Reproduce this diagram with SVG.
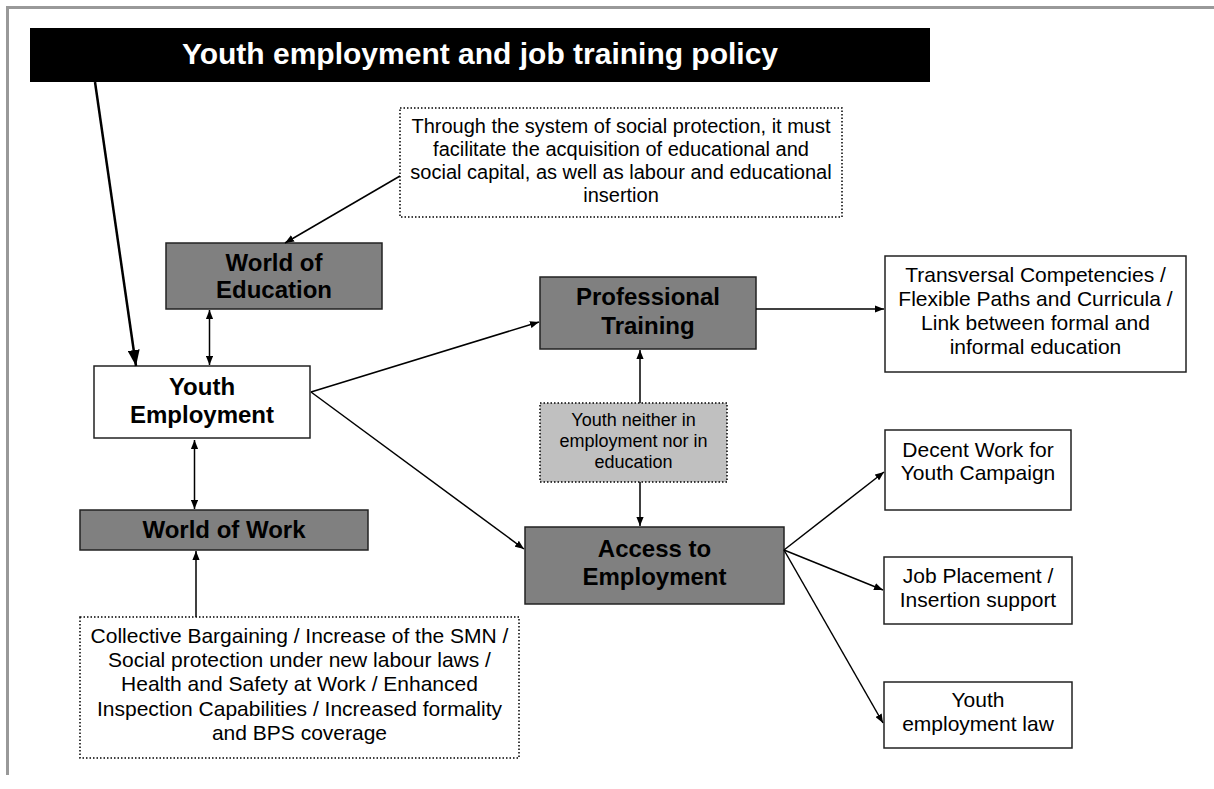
<svg xmlns="http://www.w3.org/2000/svg" width="1214" height="789" viewBox="0 0 1214 789">
<style>
text{font-family:"Liberation Sans",Arial,sans-serif;fill:#000;text-anchor:middle}
.b{font-weight:bold;font-size:24px}
.r{font-size:21px}
.s{font-size:18px}
.n20{font-size:20px}
.gray{fill:#808080;stroke:#222;stroke-width:1.5}
.white{fill:#fff;stroke:#222;stroke-width:1.5}
.dot{stroke:#000;stroke-width:1.5;stroke-dasharray:1.5 2}
.c{stroke:#000;stroke-width:1.5;fill:none}
</style>
<defs>
<marker id="ah" viewBox="0 0 10 8" refX="10" refY="4" markerWidth="9" markerHeight="7.5" markerUnits="userSpaceOnUse" orient="auto-start-reverse"><path d="M0,0 L10,4 L0,8 z" fill="#000"/></marker>
<marker id="big" viewBox="0 0 16 12" refX="16" refY="6" markerWidth="16" markerHeight="12" markerUnits="userSpaceOnUse" orient="auto"><path d="M0,0 L16,6 L0,12 z" fill="#000"/></marker>
</defs>
<rect width="1214" height="789" fill="#fff"/>
<g id="frame" fill="none" stroke="#999" stroke-width="3">
<path d="M6,7.5 H1214 M7.5,6 V775"/>
</g>
<g id="title">
<rect x="30" y="28" width="900" height="54" fill="#000"/>
<text x="480" y="64" style="fill:#fff;font-weight:bold;font-size:30px">Youth employment and job training policy</text>
</g>
<g id="social-protection">
<rect x="400" y="108" width="442" height="109" fill="#fff" class="dot"/>
<text class="n20" x="621" y="133">Through the system of social protection, it must</text>
<text class="n20" x="621" y="156">facilitate the acquisition of educational and</text>
<text class="n20" x="621" y="179">social capital, as well as labour and educational</text>
<text class="n20" x="621" y="202">insertion</text>
</g>
<g id="world-of-education">
<rect x="166" y="243" width="216" height="66" class="gray"/>
<text class="b" x="274" y="271">World of</text>
<text class="b" x="274" y="298">Education</text>
</g>
<g id="youth-employment">
<rect x="94" y="366" width="216" height="72" class="white"/>
<text class="b" x="202" y="395">Youth</text>
<text class="b" x="202" y="423">Employment</text>
</g>
<g id="world-of-work">
<rect x="80" y="510" width="288" height="40" class="gray"/>
<text class="b" x="224" y="538">World of Work</text>
</g>
<g id="labour-measures">
<rect x="80" y="617" width="439" height="141" fill="#fff" class="dot"/>
<text class="r" x="299.5" y="643">Collective Bargaining / Increase of the SMN /</text>
<text class="r" x="299.5" y="667">Social protection under new labour laws /</text>
<text class="r" x="299.5" y="691">Health and Safety at Work / Enhanced</text>
<text class="r" x="299.5" y="716">Inspection Capabilities / Increased formality</text>
<text class="r" x="299.5" y="740">and BPS coverage</text>
</g>
<g id="professional-training">
<rect x="540" y="277" width="216" height="72" class="gray"/>
<text class="b" x="648" y="305">Professional</text>
<text class="b" x="648" y="334">Training</text>
</g>
<g id="neet">
<rect x="540" y="403" width="187" height="79" fill="#c0c0c0" class="dot"/>
<text class="s" x="633.5" y="426">Youth neither in</text>
<text class="s" x="633.5" y="447">employment nor in</text>
<text class="s" x="633.5" y="468">education</text>
</g>
<g id="access-to-employment">
<rect x="525" y="527" width="259" height="77" class="gray"/>
<text class="b" x="654.5" y="557">Access to</text>
<text class="b" x="654.5" y="585">Employment</text>
</g>
<g id="transversal">
<rect x="885" y="256" width="301" height="116" class="white"/>
<text class="r" x="1035.5" y="282">Transversal Competencies /</text>
<text class="r" x="1035.5" y="306">Flexible Paths and Curricula /</text>
<text class="r" x="1035.5" y="330">Link between formal and</text>
<text class="r" x="1035.5" y="354">informal education</text>
</g>
<g id="decent-work">
<rect x="885" y="430" width="186" height="80" class="white"/>
<text class="r" x="978" y="457">Decent Work for</text>
<text class="r" x="978" y="480">Youth Campaign</text>
</g>
<g id="job-placement">
<rect x="884" y="557" width="188" height="67" class="white"/>
<text class="r" x="978" y="583">Job Placement /</text>
<text class="r" x="978" y="607">Insertion support</text>
</g>
<g id="youth-law">
<rect x="884" y="682" width="188" height="66" class="white"/>
<text class="r" x="978" y="707">Youth</text>
<text class="r" x="978" y="731">employment law</text>
</g>
<g id="connectors">
<line x1="95" y1="82" x2="136" y2="366" stroke="#000" stroke-width="2.5" marker-end="url(#big)"/>
<line x1="400" y1="176" x2="285" y2="243" class="c" marker-end="url(#ah)"/>
<line x1="209.5" y1="310" x2="209.5" y2="365" class="c" marker-start="url(#ah)" marker-end="url(#ah)"/>
<line x1="194.5" y1="440" x2="194.5" y2="509" class="c" marker-start="url(#ah)" marker-end="url(#ah)"/>
<line x1="196" y1="617" x2="196" y2="551" class="c" marker-end="url(#ah)"/>
<line x1="311" y1="392" x2="539" y2="322" class="c" marker-end="url(#ah)"/>
<line x1="311" y1="392" x2="524" y2="549" class="c" marker-end="url(#ah)"/>
<line x1="640" y1="403" x2="640" y2="350" class="c" marker-end="url(#ah)"/>
<line x1="640" y1="482" x2="640" y2="526" class="c" marker-end="url(#ah)"/>
<line x1="756" y1="309" x2="884" y2="309" class="c" marker-end="url(#ah)"/>
<line x1="784" y1="550" x2="884" y2="472" class="c" marker-end="url(#ah)"/>
<line x1="784" y1="550" x2="883" y2="590" class="c" marker-end="url(#ah)"/>
<line x1="784" y1="550" x2="883" y2="723" class="c" marker-end="url(#ah)"/>
</g>
</svg>
